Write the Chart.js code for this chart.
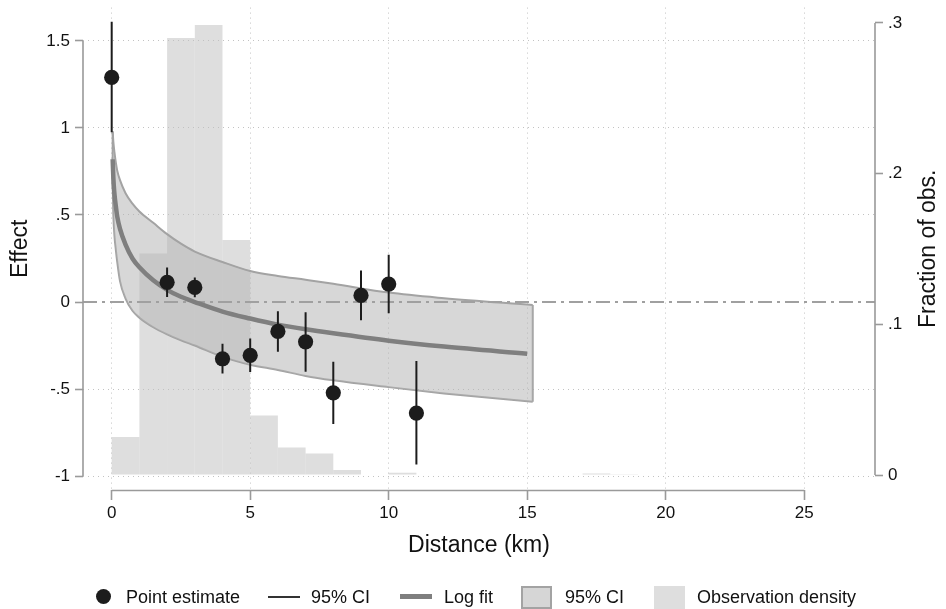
<!DOCTYPE html>
<html>
<head>
<meta charset="utf-8">
<script src="https://cdn.jsdelivr.net/npm/chart.js@4.4.1/dist/chart.umd.min.js"></script>
<style>
  html, body { margin: 0; padding: 0; background: #fff; }
  #wrap { position: relative; width: 946px; height: 609px; }
  #legend { position: absolute; left: 0; top: 584px; width: 946px; height: 26px;
    font: 18px "Liberation Sans", Arial, sans-serif; color: #111; }
  .sym, .txt { position: absolute; }
  .txt { top: 3px; }
</style>
</head>
<body>
<div id="wrap">
  <canvas id="effectChart" width="946" height="609"></canvas>
  <div id="legend">
    <div class="sym" style="left:96px;top:5px;width:15px;height:15px;border-radius:50%;background:#1c1c1c"></div>
    <div class="txt" style="left:126px">Point estimate</div>
    <div class="sym" style="left:268px;top:12px;width:32px;height:1.5px;background:#333"></div>
    <div class="txt" style="left:311px">95% CI</div>
    <div class="sym" style="left:400px;top:10px;width:32px;height:5px;background:#7f7f7f"></div>
    <div class="txt" style="left:444px">Log fit</div>
    <div class="sym" style="left:521px;top:2px;width:27px;height:19px;background:#d6d6d6;border:2px solid #a3a3a3"></div>
    <div class="txt" style="left:565px">95% CI</div>
    <div class="sym" style="left:654px;top:2px;width:31px;height:23px;background:#dedede"></div>
    <div class="txt" style="left:697px">Observation density</div>
  </div>
</div>
<script>
// --- point estimates by distance (km) ---
const distKm   = [0, 2, 3, 4, 5, 6, 7, 8, 9, 10, 11];
const pointEst = [1.29, 0.113, 0.084, -0.326, -0.307, -0.169, -0.229, -0.522, 0.038, 0.103, -0.638];
const ciLow    = [0.975, 0.029, 0.027, -0.411, -0.402, -0.286, -0.40, -0.701, -0.105, -0.065, -0.933];
const ciHigh   = [1.61, 0.198, 0.141, -0.24, -0.209, -0.053, -0.059, -0.343, 0.181, 0.271, -0.339];

// --- log fit and its 95% CI band ---
const fitX = [0.035, 0.06, 0.1, 0.15, 0.2, 0.3, 0.5, 0.75, 1, 1.5, 2, 2.5, 3, 4, 5, 6, 7, 8, 10, 12, 15];
const fitY = [0.82, 0.71, 0.62, 0.55, 0.49, 0.42, 0.33, 0.25, 0.2, 0.125, 0.07, 0.03, 0, -0.055, -0.095, -0.13, -0.157, -0.18, -0.222, -0.256, -0.297];
const bandX     = [0.035, 0.06, 0.1, 0.15, 0.2, 0.3, 0.5, 0.75, 1, 1.5, 2, 2.5, 3, 4, 5, 6, 7, 8, 10, 12, 15.2];
const bandUpper = [0.98, 0.92, 0.86, 0.8, 0.755, 0.7, 0.625, 0.565, 0.52, 0.455, 0.39, 0.335, 0.29, 0.23, 0.178, 0.15, 0.128, 0.105, 0.054, 0.022, -0.017];
const bandLower = [0.68, 0.5, 0.38, 0.3, 0.23, 0.12, 0.02, -0.05, -0.09, -0.145, -0.186, -0.22, -0.25, -0.315, -0.36, -0.39, -0.425, -0.45, -0.489, -0.525, -0.573];

// --- histogram: fraction of observations per 1 km bin ---
const binMid  = [0.5, 1.5, 2.5, 3.5, 4.5, 5.5, 6.5, 7.5, 8.5, 9.5, 10.5, 11.5, 12.5, 13.5, 14.5, 15.5, 16.5, 17.5, 18.5];
const binFrac = [0.0253, 0.147, 0.29, 0.2987, 0.156, 0.0396, 0.0183, 0.0143, 0.0033, 0, 0.0015, 0, 0, 0, 0, 0, 0, 0.001, 0.0005];

// --- axes ---
const xTicks = [0, 5, 10, 15, 20, 25];
const effectTicks = [-1, -0.5, 0, 0.5, 1, 1.5];
const effectTickLabels = ["-1", "-.5", "0", ".5", "1", "1.5"];
const fracTicks = [0, 0.1, 0.2, 0.3];
const fracTickLabels = ["0", ".1", ".2", ".3"];
const X_MIN = -1.036, X_MAX = 27.556;
const zeroLineX = [X_MIN, X_MAX];

const FONT = '"Liberation Sans", Arial, sans-serif';
const AXIS_GRAY = "#9a9a9a";
const GRID_GRAY = "#c2c2c2";
const BAND_EDGE = "#a3a3a3";

function fixedTicks(values) {
  return (scale) => { scale.ticks = values.map((v) => ({ value: v })); };
}

// keep the plot region fixed: no label overflow padding
function fixSize(dim, size) {
  return (s) => {
    s[dim] = size;
    s.paddingTop = 0; s.paddingBottom = 0; s.paddingLeft = 0; s.paddingRight = 0;
  };
}

// axis lines (offset Stata style) and titles
const stataAxes = {
  id: "stataAxes",
  afterDraw(chart) {
    const { ctx, chartArea, scales } = chart;
    const x = scales.x, y = scales.y, y2 = scales.y2;
    ctx.save();
    ctx.strokeStyle = AXIS_GRAY;
    ctx.lineWidth = 1.6;
    ctx.beginPath();
    ctx.moveTo(chartArea.left, y.getPixelForValue(effectTicks[effectTicks.length - 1]));
    ctx.lineTo(chartArea.left, y.getPixelForValue(effectTicks[0]));
    ctx.moveTo(chartArea.right, y2.getPixelForValue(fracTicks[fracTicks.length - 1]));
    ctx.lineTo(chartArea.right, y2.getPixelForValue(fracTicks[0]));
    ctx.moveTo(x.getPixelForValue(xTicks[0]), chartArea.bottom + 0.5);
    ctx.lineTo(x.getPixelForValue(xTicks[xTicks.length - 1]), chartArea.bottom + 0.5);
    ctx.stroke();

    ctx.fillStyle = "#111";
    ctx.font = "23px " + FONT;
    ctx.textAlign = "center";
    ctx.textBaseline = "middle";
    const midY = (chartArea.top + chartArea.bottom) / 2;
    ctx.fillText("Distance (km)", (chartArea.left + chartArea.right) / 2, 546);
    ctx.save();
    ctx.translate(21, midY);
    ctx.rotate(-Math.PI / 2);
    ctx.fillText("Effect", 0, 0);
    ctx.restore();
    ctx.save();
    ctx.translate(929, midY);
    ctx.rotate(-Math.PI / 2);
    ctx.fillText("Fraction of obs.", 0, 0);
    ctx.restore();
    ctx.restore();
  }
};

function buildCiSegments() {
  const pts = [];
  distKm.forEach((x, i) => {
    pts.push({ x, y: ciLow[i] }, { x, y: ciHigh[i] }, { x, y: null });
  });
  return pts;
}

const last = bandX.length - 1;

const ctx = document.getElementById("effectChart").getContext("2d");
new Chart(ctx, {
  type: "scatter",
  data: {
    datasets: [
      {
        type: "bar",
        label: "Observation density",
        data: binMid.map((x, i) => ({ x, y: binFrac[i] })),
        yAxisID: "y2",
        backgroundColor: "rgba(192,192,192,0.53)",
        borderWidth: 0,
        inflateAmount: 0,
        barPercentage: 1,
        categoryPercentage: 1,
        grouped: false,
        order: 7
      },
      {
        label: "95% CI upper",
        data: bandX.map((x, i) => ({ x, y: bandUpper[i] })),
        showLine: true,
        fill: "+1",
        backgroundColor: "rgba(179,179,179,0.52)",
        borderColor: BAND_EDGE,
        borderWidth: 2,
        cubicInterpolationMode: "monotone",
        pointRadius: 0,
        order: 6
      },
      {
        label: "95% CI lower",
        data: bandX.map((x, i) => ({ x, y: bandLower[i] })),
        showLine: true,
        borderColor: BAND_EDGE,
        borderWidth: 2,
        cubicInterpolationMode: "monotone",
        pointRadius: 0,
        order: 6
      },
      {
        label: "95% CI ends",
        data: [
          { x: bandX[0], y: bandUpper[0] }, { x: bandX[0], y: bandLower[0] }, { x: bandX[0], y: null },
          { x: bandX[last], y: bandUpper[last] }, { x: bandX[last], y: bandLower[last] }
        ],
        showLine: true,
        spanGaps: false,
        borderColor: BAND_EDGE,
        borderWidth: 2,
        pointRadius: 0,
        order: 6
      },
      {
        label: "zero",
        data: zeroLineX.map((x) => ({ x, y: 0 })),
        showLine: true,
        borderColor: "#a0a0a0",
        borderWidth: 2,
        borderDash: [14, 5, 3, 5],
        pointRadius: 0,
        order: 4
      },
      {
        label: "Log fit",
        data: fitX.map((x, i) => ({ x, y: fitY[i] })),
        showLine: true,
        borderColor: "#7f7f7f",
        borderWidth: 4.5,
        cubicInterpolationMode: "monotone",
        pointRadius: 0,
        order: 3
      },
      {
        label: "95% CI",
        data: buildCiSegments(),
        showLine: true,
        spanGaps: false,
        borderColor: "#1c1c1c",
        borderWidth: 2,
        pointRadius: 0,
        order: 2
      },
      {
        label: "Point estimate",
        data: distKm.map((x, i) => ({ x, y: pointEst[i] })),
        pointRadius: 7.6,
        pointBackgroundColor: "#1c1c1c",
        pointBorderWidth: 0,
        order: 1
      }
    ]
  },
  options: {
    responsive: false,
    animation: false,
    devicePixelRatio: 1,
    layout: { padding: { top: 5, left: 0, right: 0, bottom: 0 } },
    plugins: { legend: { display: false }, tooltip: { enabled: false } },
    scales: {
      x: {
        type: "linear",
        min: X_MIN,
        max: X_MAX,
        offset: false,
        afterBuildTicks: fixedTicks(xTicks),
        afterFit: fixSize("height", 119),
        border: { display: false, dash: [1, 4] },
        grid: { offset: false, color: GRID_GRAY, lineWidth: 1, tickLength: 10, tickColor: AXIS_GRAY, tickWidth: 1.6 },
        ticks: { color: "#111", font: { family: FONT, size: 17 }, padding: 3, maxRotation: 0 }
      },
      y: {
        position: "left",
        min: -1.08,
        max: 1.6914,
        afterBuildTicks: fixedTicks(effectTicks),
        afterFit: fixSize("width", 83),
        border: { display: false, dash: [1, 4] },
        grid: {
          color: (c) => (c.tick && c.tick.value === 0 ? "rgba(0,0,0,0)" : GRID_GRAY),
          lineWidth: 1, tickLength: 8, tickColor: AXIS_GRAY, tickWidth: 1.6
        },
        ticks: {
          color: "#111", font: { family: FONT, size: 17 }, padding: 5,
          callback: (v) => effectTickLabels[effectTicks.indexOf(v)]
        }
      },
      y2: {
        position: "right",
        min: -0.0099,
        max: 0.3102,
        afterBuildTicks: fixedTicks(fracTicks),
        afterFit: fixSize("width", 71),
        border: { display: false },
        grid: { drawOnChartArea: false, tickLength: 8, tickColor: AXIS_GRAY, tickWidth: 1.6 },
        ticks: {
          color: "#111", font: { family: FONT, size: 17 }, padding: 5,
          callback: (v) => fracTickLabels[fracTicks.indexOf(v)]
        }
      }
    }
  },
  plugins: [stataAxes]
});
</script>
</body>
</html>
